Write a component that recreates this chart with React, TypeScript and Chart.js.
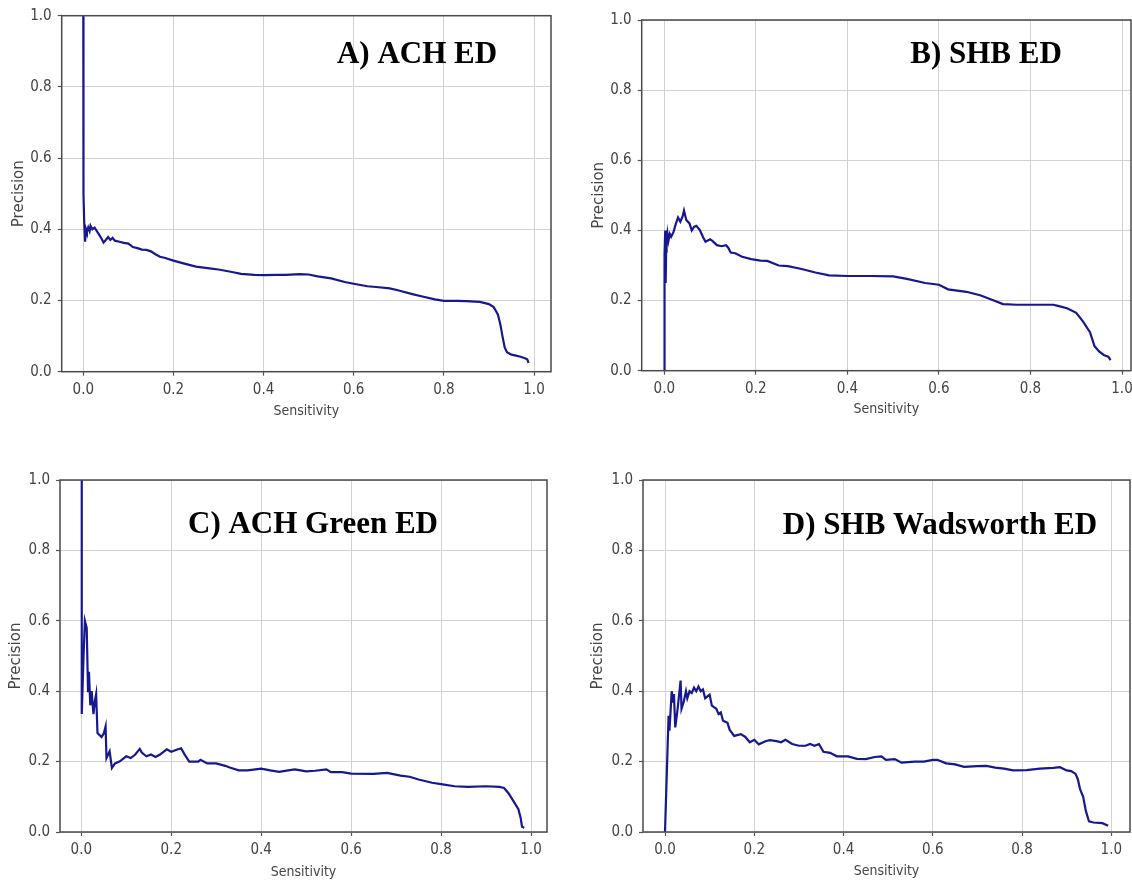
import React, { useEffect, useRef } from "react";
import { Chart, registerables } from "chart.js";

Chart.register(...registerables);

// ---------------- data ----------------
const X_TICKS = [0, 0.2, 0.4, 0.6, 0.8, 1.0];
const Y_TICKS = [0, 0.2, 0.4, 0.6, 0.8, 1.0];
const X_LABEL = "Sensitivity";
const Y_LABEL = "Precision";
const PANEL_TITLES = ["A) ACH ED", "B) SHB ED", "C) ACH Green ED", "D) SHB Wadsworth ED"];

// [sensitivity, precision]
const CURVE_A: [number, number][] = [
  [0, 1.0], [0, 0.5], [0, 0.88], [0, 0.52], [0.001, 0.61], [0.001, 0.5], [0.002, 0.42], [0.004, 0.365],
  [0.006, 0.4], [0.008, 0.392], [0.011, 0.405], [0.014, 0.395], [0.016, 0.41], [0.02, 0.4], [0.025, 0.405],
  [0.03, 0.395], [0.035, 0.385], [0.04, 0.375], [0.045, 0.363], [0.05, 0.37], [0.055, 0.378], [0.06, 0.37],
  [0.065, 0.376], [0.07, 0.368], [0.08, 0.365], [0.09, 0.362], [0.1, 0.36], [0.11, 0.35], [0.12, 0.347],
  [0.13, 0.343], [0.14, 0.342], [0.15, 0.338], [0.16, 0.33], [0.17, 0.323], [0.18, 0.32], [0.2, 0.312],
  [0.22, 0.305], [0.25, 0.295], [0.28, 0.29], [0.3, 0.287], [0.33, 0.28], [0.35, 0.275], [0.38, 0.272],
  [0.4, 0.271], [0.43, 0.272], [0.45, 0.272], [0.48, 0.274], [0.5, 0.273], [0.52, 0.268], [0.55, 0.262],
  [0.58, 0.252], [0.6, 0.247], [0.63, 0.24], [0.65, 0.238], [0.68, 0.234], [0.7, 0.228], [0.73, 0.218],
  [0.75, 0.212], [0.78, 0.203], [0.8, 0.199], [0.83, 0.199], [0.85, 0.198], [0.88, 0.196], [0.9, 0.19],
  [0.91, 0.182], [0.915, 0.172], [0.92, 0.16], [0.925, 0.135], [0.93, 0.1], [0.935, 0.068], [0.94, 0.055],
  [0.95, 0.048], [0.96, 0.045], [0.97, 0.042], [0.98, 0.038], [0.985, 0.035], [0.988, 0.025],
];

const CURVE_B: [number, number][] = [
  [0, 0], [0, 0.2], [0.001, 0.33], [0.002, 0.4], [0.003, 0.25], [0.004, 0.34], [0.005, 0.36], [0.007, 0.39],
  [0.009, 0.37], [0.012, 0.39], [0.015, 0.382], [0.02, 0.395], [0.025, 0.418], [0.03, 0.437], [0.035, 0.425],
  [0.04, 0.44], [0.043, 0.457], [0.048, 0.43], [0.055, 0.42], [0.06, 0.4], [0.065, 0.41], [0.07, 0.413],
  [0.078, 0.4], [0.085, 0.38], [0.09, 0.368], [0.1, 0.375], [0.105, 0.37], [0.115, 0.358], [0.125, 0.355],
  [0.135, 0.358], [0.14, 0.35], [0.145, 0.337], [0.155, 0.335], [0.17, 0.325], [0.19, 0.318], [0.21, 0.314],
  [0.225, 0.313], [0.25, 0.3], [0.27, 0.298], [0.3, 0.29], [0.33, 0.28], [0.36, 0.272], [0.4, 0.27],
  [0.45, 0.27], [0.5, 0.269], [0.53, 0.262], [0.57, 0.25], [0.6, 0.245], [0.62, 0.232], [0.66, 0.225],
  [0.69, 0.215], [0.72, 0.2], [0.74, 0.19], [0.77, 0.188], [0.85, 0.188], [0.86, 0.185], [0.88, 0.178],
  [0.9, 0.165], [0.915, 0.14], [0.93, 0.11], [0.94, 0.07], [0.95, 0.055], [0.96, 0.045], [0.97, 0.04],
  [0.975, 0.03],
];

const CURVE_C: [number, number][] = [
  [0.001, 1.0], [0.001, 0.335], [0.005, 0.5], [0.008, 0.6], [0.012, 0.58], [0.015, 0.4], [0.017, 0.455],
  [0.02, 0.36], [0.023, 0.4], [0.027, 0.335], [0.03, 0.37], [0.033, 0.392], [0.036, 0.281], [0.045, 0.27],
  [0.05, 0.28], [0.054, 0.3], [0.056, 0.21], [0.063, 0.229], [0.068, 0.182], [0.075, 0.195], [0.085, 0.2],
  [0.1, 0.215], [0.11, 0.21], [0.12, 0.22], [0.13, 0.236], [0.135, 0.225], [0.145, 0.215], [0.155, 0.22],
  [0.165, 0.213], [0.175, 0.22], [0.19, 0.235], [0.2, 0.228], [0.215, 0.235], [0.222, 0.238], [0.23, 0.22],
  [0.24, 0.2], [0.26, 0.2], [0.265, 0.205], [0.28, 0.195], [0.3, 0.195], [0.32, 0.188], [0.33, 0.183],
  [0.35, 0.175], [0.37, 0.175], [0.4, 0.18], [0.42, 0.175], [0.44, 0.171], [0.46, 0.175], [0.475, 0.178],
  [0.5, 0.172], [0.52, 0.174], [0.545, 0.178], [0.555, 0.17], [0.58, 0.17], [0.6, 0.166], [0.65, 0.165],
  [0.68, 0.168], [0.71, 0.16], [0.73, 0.157], [0.75, 0.149], [0.78, 0.14], [0.8, 0.136], [0.83, 0.13],
  [0.86, 0.128], [0.9, 0.13], [0.93, 0.128], [0.94, 0.125], [0.95, 0.11], [0.96, 0.09], [0.972, 0.065],
  [0.977, 0.04], [0.98, 0.015], [0.985, 0.012],
];

const CURVE_D: [number, number][] = [
  [0, 0], [0.008, 0.33], [0.01, 0.288], [0.015, 0.4], [0.018, 0.37], [0.02, 0.392], [0.023, 0.297],
  [0.028, 0.347], [0.035, 0.43], [0.037, 0.35], [0.042, 0.37], [0.047, 0.4], [0.05, 0.38], [0.055, 0.4],
  [0.06, 0.395], [0.065, 0.41], [0.07, 0.4], [0.075, 0.413], [0.08, 0.4], [0.085, 0.405], [0.09, 0.38],
  [0.095, 0.385], [0.1, 0.39], [0.105, 0.359], [0.115, 0.35], [0.12, 0.335], [0.125, 0.34], [0.13, 0.316],
  [0.14, 0.31], [0.145, 0.29], [0.155, 0.273], [0.17, 0.278], [0.18, 0.27], [0.19, 0.255], [0.2, 0.262],
  [0.21, 0.249], [0.225, 0.258], [0.235, 0.261], [0.25, 0.258], [0.26, 0.255], [0.27, 0.262], [0.285, 0.25],
  [0.3, 0.245], [0.315, 0.245], [0.325, 0.25], [0.335, 0.245], [0.345, 0.25], [0.355, 0.228], [0.37, 0.225],
  [0.385, 0.215], [0.41, 0.215], [0.43, 0.208], [0.45, 0.207], [0.47, 0.213], [0.485, 0.215], [0.495, 0.205],
  [0.515, 0.207], [0.53, 0.197], [0.56, 0.2], [0.58, 0.2], [0.6, 0.205], [0.61, 0.205], [0.63, 0.195],
  [0.65, 0.192], [0.67, 0.185], [0.7, 0.187], [0.72, 0.188], [0.74, 0.183], [0.76, 0.18], [0.78, 0.175],
  [0.81, 0.176], [0.84, 0.18], [0.87, 0.182], [0.885, 0.184], [0.9, 0.175], [0.91, 0.173], [0.92, 0.165],
  [0.925, 0.15], [0.93, 0.122], [0.937, 0.1], [0.94, 0.08], [0.943, 0.06], [0.95, 0.03], [0.96, 0.027],
  [0.98, 0.025], [0.993, 0.018],
];

const CURVES = [CURVE_A, CURVE_B, CURVE_C, CURVE_D];

// ---------------- layout (page pixels) ----------------
type PanelLayout = {
  canvas: [number, number, number, number]; // left, top, width, height
  area: [number, number, number, number]; // plot left, top, right, bottom
  x0: number; // pixel of sensitivity 0
  x1: number; // pixel of sensitivity 1
  yTitleX: number;
  xTitleY: number;
  title: [number, number]; // center x, baseline y
};

const LAYOUTS: PanelLayout[] = [
  { canvas: [0, 0, 580, 460], area: [61.7, 15.7, 551, 371.7], x0: 83.3, x1: 534, yTitleX: 19.3, xTitleY: 411, title: [417, 63] },
  { canvas: [570, 0, 580, 460], area: [641.7, 20, 1131, 370.7], x0: 664.3, x1: 1122, yTitleX: 599, xTitleY: 409, title: [986, 63] },
  { canvas: [0, 440, 580, 460], area: [60, 480, 547, 832], x0: 81.3, x1: 531, yTitleX: 16, xTitleY: 872, title: [313, 533] },
  { canvas: [570, 440, 580, 460], area: [643, 480, 1130, 832], x0: 665, x1: 1111.3, yTitleX: 598, xTitleY: 871, title: [940, 534] },
];

const LINE_COLOR = "#17178f";
const TICK_FONT = '"Liberation Sans Narrow", "DejaVu Sans Condensed", "DejaVu Sans", sans-serif';
const TICK_SIZE = 15;
const Y_TITLE_SIZE = 15;
const X_TITLE_SIZE = 14;

function Panel({ index }: { index: number }) {
  const ref = useRef<HTMLCanvasElement | null>(null);
  const lay = LAYOUTS[index];
  const [cl, ct, cw, ch] = lay.canvas;

  useEffect(() => {
    if (!ref.current) return;
    const [L, T, R, B] = lay.area;
    const unit = lay.x1 - lay.x0;
    const xMin = (L - lay.x0) / unit;
    const xMax = (R - lay.x0) / unit;
    const yHalf = (Y_TITLE_SIZE * 1.2) / 2;
    const xHalf = (X_TITLE_SIZE * 1.2) / 2;
    const yAxisWidth = L - (lay.yTitleX - yHalf);
    const xAxisHeight = lay.xTitleY + xHalf - B;

    const framePlugin = {
      id: "frame" + index,
      afterDatasetsDraw(chart: any) {
        const { ctx, chartArea } = chart;
        ctx.save();
        ctx.strokeStyle = "#4a4a4a";
        ctx.lineWidth = 1.5;
        ctx.strokeRect(chartArea.left, chartArea.top, chartArea.right - chartArea.left, chartArea.bottom - chartArea.top);
        ctx.restore();
      },
      afterDraw(chart: any) {
        const { ctx } = chart;
        ctx.save();
        ctx.fillStyle = "#000";
        ctx.font = 'bold 31px "Liberation Serif", "Times New Roman", serif';
        ctx.textAlign = "center";
        ctx.textBaseline = "alphabetic";
        ctx.fillText(PANEL_TITLES[index], lay.title[0] - cl, lay.title[1] - ct);
        ctx.restore();
      },
    };

    const chart = new Chart(ref.current, {
      type: "scatter",
      data: {
        datasets: [
          {
            data: CURVES[index].map(([x, y]) => ({ x, y })),
            showLine: true,
            pointRadius: 0,
            borderColor: LINE_COLOR,
            borderWidth: 2.2,
            tension: 0,
          },
        ],
      },
      options: {
        responsive: false,
        animation: false,
        events: [],
        layout: {
          padding: {
            left: lay.yTitleX - yHalf - cl,
            top: T - ct,
            right: cl + cw - R,
            bottom: ct + ch - (lay.xTitleY + xHalf),
          },
        },
        plugins: {
          legend: { display: false },
          tooltip: { enabled: false },
        },
        scales: {
          x: {
            type: "linear",
            min: xMin,
            max: xMax,
            afterBuildTicks: (s: any) => {
              s.ticks = X_TICKS.map((v) => ({ value: v }));
            },
            afterFit: (s: any) => {
              s.height = xAxisHeight;
              s.paddingLeft = 0;
              s.paddingRight = 0;
            },
            ticks: {
              includeBounds: false,
              autoSkip: false,
              maxRotation: 0,
              padding: 5,
              color: "#444",
              font: { family: TICK_FONT, size: TICK_SIZE },
              callback: (v: any) => Number(v).toFixed(1),
            },
            grid: {
              color: "#d2d2d2",
              lineWidth: 1,
              drawTicks: true,
              tickLength: 4,
              tickColor: "#555",
              tickWidth: 1.2,
            },
            border: { display: false },
            title: {
              display: true,
              text: X_LABEL,
              color: "#444",
              padding: 0,
              font: { family: TICK_FONT, size: X_TITLE_SIZE, lineHeight: 1.2 },
            },
          },
          y: {
            type: "linear",
            min: 0,
            max: 1,
            afterBuildTicks: (s: any) => {
              s.ticks = Y_TICKS.map((v) => ({ value: v }));
            },
            afterFit: (s: any) => {
              s.width = yAxisWidth;
              s.paddingTop = 0;
              s.paddingBottom = 0;
            },
            ticks: {
              includeBounds: false,
              autoSkip: false,
              padding: 6,
              color: "#444",
              font: { family: TICK_FONT, size: TICK_SIZE },
              callback: (v: any) => Number(v).toFixed(1),
            },
            grid: {
              color: "#d2d2d2",
              lineWidth: 1,
              drawTicks: true,
              tickLength: 4,
              tickColor: "#555",
              tickWidth: 1.2,
            },
            border: { display: false },
            title: {
              display: true,
              text: Y_LABEL,
              color: "#444",
              padding: 0,
              font: { family: '"DejaVu Sans", sans-serif', size: Y_TITLE_SIZE, lineHeight: 1.2 },
            },
          },
        },
      },
      plugins: [framePlugin],
    } as any);

    return () => chart.destroy();
  }, [index]);

  return (
    <canvas
      ref={ref}
      width={cw}
      height={ch}
      style={{ position: "absolute", left: cl, top: ct, width: cw, height: ch }}
    />
  );
}

export default function App() {
  return (
    <div
      style={{
        position: "absolute",
        left: 0,
        top: 0,
        width: 1132,
        height: 882,
        overflow: "hidden",
        background: "#ffffff",
      }}
    >
      {[0, 1, 2, 3].map((i) => (
        <Panel key={i} index={i} />
      ))}
    </div>
  );
}
